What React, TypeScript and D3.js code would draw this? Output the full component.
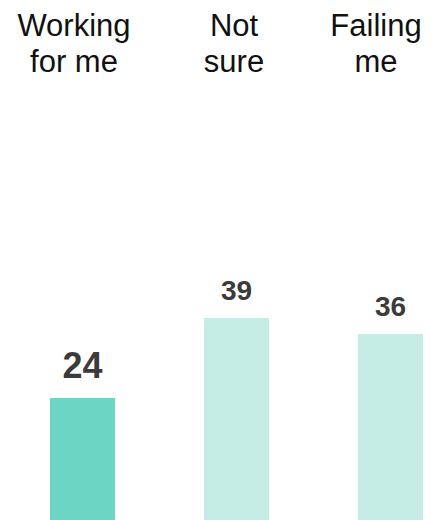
import React from "react";
import * as d3 from "d3";

const categories = ["Working for me", "Not sure", "Failing me"];
const labelLines = [["Working", "for me"], ["Not", "sure"], ["Failing", "me"]];
const values = [24, 39, 36];
const highlighted = [true, false, false];

const W = 431;
const H = 520;

export default function App() {
  const xb = d3.scaleLinear().domain([0, 2]).range([50, 358]);
  const bw = 65;
  const y = d3.scaleLinear().domain([0, 39]).range([526, 318]);
  const labelCenters = [74, 234, 376];
  return (
    <svg width={W} height={H} style={{ position: "absolute", left: 0, top: 0, background: "#fff" }}
      fontFamily="'Liberation Sans', Arial, sans-serif">
      {categories.map((c, i) => (
        <g key={c}>
          <rect x={xb(i)} y={y(values[i])} width={bw} height={y(0) - y(values[i])}
            fill={highlighted[i] ? "#6dd5c4" : "#c5ede6"} />
          <text x={xb(i) + bw / 2} y={y(values[i]) - (highlighted[i] ? 20 : 18)} textAnchor="middle"
            fontWeight="bold" fontSize={highlighted[i] ? 36 : 28} fill="#3b3b3b">{values[i]}</text>
          {labelLines[i].map((ln, j) => (
            <text key={j} x={labelCenters[i]} y={36 + j * 36} textAnchor="middle" fontSize={31} fill="#111">{ln}</text>
          ))}
        </g>
      ))}
    </svg>
  );
}
